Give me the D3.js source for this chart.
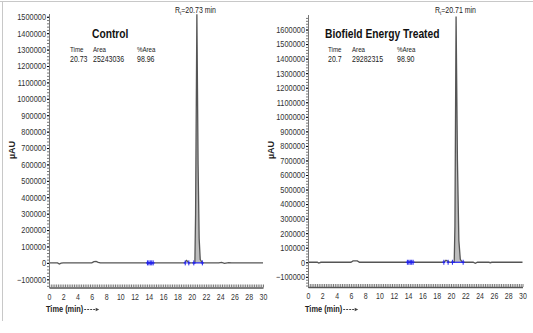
<!DOCTYPE html>
<html><head><meta charset="utf-8">
<script src="https://cdn.jsdelivr.net/npm/d3@7"></script>
<style>
body{margin:0;background:#fff;}
svg{display:block;font-family:"Liberation Sans",Arial,sans-serif;}
</style></head><body>
<svg id="c" width="533" height="333"></svg>
<script>
// ---- data ----
const xTicks = [0,2,4,6,8,10,12,14,16,18,20,22,24,26,28,30];
const yTicksControl = [-100000,0,100000,200000,300000,400000,500000,600000,700000,800000,900000,1000000,1100000,1200000,1300000,1400000,1500000];
const yTicksTreated = [-100000,0,100000,200000,300000,400000,500000,600000,700000,800000,900000,1000000,1100000,1200000,1300000,1400000,1500000,1600000];

const controlTime  = [0, 1.2, 1.45, 1.7, 2.0, 6.0, 6.3, 6.6, 6.9, 7.2, 13.8, 14.2, 14.6, 19.0, 19.3, 19.6, 20.0, 20.35, 20.45, 20.55, 20.73, 20.9, 21.05, 21.2, 21.5, 23.8, 24.2, 24.6, 25.2, 25.6, 30];
const controlValue = [0, 0, -7000, -2000, 0, 0, 8000, 9000, 3000, 0, 0, 2000, 0, 0, 15000, 0, 0, 0, 0, 300000, 1515000, 600000, 150000, 20000, 0, 0, 3000, -3000, 2000, 0, 0];
const treatedTime  = [0, 1.3, 1.5, 1.8, 6.0, 6.3, 6.9, 7.2, 13.8, 14.3, 14.8, 19.0, 19.3, 19.7, 20.0, 20.35, 20.45, 20.55, 20.71, 20.9, 21.1, 21.3, 21.6, 23.1, 23.4, 23.7, 25.3, 25.5, 25.7, 30];
const treatedValue = [0, 0, -6000, 0, 0, 9000, 9000, 0, 0, 2000, 0, 0, 14000, 3000, 0, 0, 0, 250000, 1690000, 700000, 150000, 20000, 0, 0, -7000, 0, 0, -3000, 0, 0];

const controlMarks = [13.8, 14.0, 14.2, 14.4, 14.6, 19.1, 19.6, 20.3, 21.5];
const treatedMarks = [13.9, 14.1, 14.3, 14.5, 14.7, 19.0, 19.6, 20.2, 21.7];
const controlPeakRange = [20.3, 21.5];
const treatedPeakRange = [20.2, 21.7];

const panels = [
  {title:"Control", rt:"20.73", time:"20.73", area:"25243036", pct:"98.96",
   t:controlTime, v:controlValue, marks:controlMarks, peak:controlPeakRange, yTicks:yTicksControl,
   xr:[49,263], yd:[-150000,1520000], yr:[287.5,13.5], titleX:92, tableX:[70,93,137], rtX:175, muX:12},
  {title:"Biofield Energy Treated", rt:"20.71", time:"20.7", area:"29282315", pct:"98.90",
   t:treatedTime, v:treatedValue, marks:treatedMarks, peak:treatedPeakRange, yTicks:yTicksTreated,
   xr:[308,522.5], yd:[-170000,1700000], yr:[287,15], titleX:325, tableX:[328,352,397], rtX:435, muX:271}
];

const K = 0.82; // condense factor to mimic a narrow face
function condense(sel){
  sel.each(function(){
    const w = this.getComputedTextLength();
    if (w <= 0) return;
    const s = d3.select(this);
    const anchor = getComputedStyle(this).textAnchor;
    const x0 = +(s.attr("x") || 0);
    const nw = w*K;
    let nx = x0;
    if (anchor === "end") nx = x0 - nw;
    else if (anchor === "middle") nx = x0 - nw/2;
    s.attr("x", nx).attr("text-anchor","start")
     .attr("textLength", nw).attr("lengthAdjust","spacingAndGlyphs");
  });
}

const svg = d3.select("#c");
// frame
svg.append("line").attr("x1",0).attr("x2",533).attr("y1",1.5).attr("y2",1.5).attr("stroke","#c8c8c8");
svg.append("line").attr("x1",2.5).attr("x2",2.5).attr("y1",1).attr("y2",321).attr("stroke","#c8c8c8");

panels.forEach(p => {
  const g = svg.append("g");
  const x = d3.scaleLinear().domain([0,30]).range(p.xr);
  const y = d3.scaleLinear().domain(p.yd).range(p.yr);
  const pts = p.t.map((t,i)=>[t,p.v[i]]);

  // peak fill
  const peakPts = pts.filter(d=>d[0]>=p.peak[0] && d[0]<=p.peak[1]);
  g.append("path").datum(peakPts)
    .attr("d", d3.area().x(d=>x(d[0])).y0(y(0)).y1(d=>y(d[1])))
    .attr("fill","#bdbdbd").attr("stroke","none");

  // trace
  g.append("path").datum(pts)
    .attr("d", d3.line().x(d=>x(d[0])).y(d=>y(d[1])))
    .attr("fill","none").attr("stroke","#555").attr("stroke-width",1.3);

  // blue markers
  g.append("line").attr("x1",x(p.peak[0])).attr("x2",x(p.peak[1]))
    .attr("y1",y(0)).attr("y2",y(0)).attr("stroke","#2222ee").attr("stroke-width",1.2);
  p.marks.forEach(m=>{
    g.append("line").attr("x1",x(m)).attr("x2",x(m)).attr("y1",y(0)-2.5).attr("y2",y(0)+2.5)
      .attr("stroke","#2222ee").attr("stroke-width",1);
    g.append("line").attr("x1",x(m)-1.5).attr("x2",x(m)+1.5).attr("y1",y(0)).attr("y2",y(0))
      .attr("stroke","#2222ee").attr("stroke-width",1.2);
  });

  // axes
  const yMinor = d3.range(p.yd[0]+10000, p.yd[1], 20000);
  const ax = g.append("g").attr("transform",`translate(${p.xr[0]},0)`);
  ax.call(d3.axisLeft(y).tickValues(yMinor).tickSize(2).tickFormat("").tickSizeOuter(0));
  ax.call(g2=>g2.selectAll(".tick line").attr("stroke","#777"));
  const ay = g.append("g").attr("transform",`translate(${p.xr[0]},0)`);
  ay.call(d3.axisLeft(y).tickValues(p.yTicks).tickSize(2).tickPadding(1).tickSizeOuter(0).tickFormat(d3.format("d")));
  ay.attr("font-family",null);
  ay.select(".domain").attr("stroke","#777");
  ay.selectAll("text").attr("font-size",9).attr("fill","#333").call(condense);

  const xMinor = d3.range(0, 30.01, 0.25);
  const bx = g.append("g").attr("transform",`translate(0,${p.yr[0]})`);
  bx.call(d3.axisBottom(x).tickValues(xMinor).tickSize(-3).tickFormat("").tickSizeOuter(0));
  bx.select(".domain").attr("stroke","#555").attr("stroke-width",1.5);
  bx.selectAll(".tick line").attr("stroke","#777");
  const bx2 = g.append("g").attr("transform",`translate(0,${p.yr[0]})`);
  bx2.call(d3.axisBottom(x).tickValues(xTicks).tickSize(0).tickPadding(6).tickSizeOuter(0));
  bx2.attr("font-family",null);
  bx2.select(".domain").remove();
  bx2.selectAll("text").attr("font-size",8.5).attr("fill","#333").call(condense);

  // axis titles
  const tt = g.append("text").attr("x",p.xr[0]-3).attr("y",312).attr("font-size",9).attr("font-weight","bold")
    .attr("fill","#222").text("Time (min)").call(condense);
  const tw = +tt.attr("textLength");
  const ax0 = p.xr[0]-3+tw+1;
  g.append("line").attr("x1",ax0).attr("x2",ax0+12).attr("y1",309.5).attr("y2",309.5)
    .attr("stroke","#444").attr("stroke-dasharray","2,1");
  g.append("path").attr("d",`M${ax0+15},309.5 l-3.5,-1.7 v3.4 z`).attr("fill","#444");

  g.append("text").attr("transform",`translate(${p.muX+3},150) rotate(-90)`)
    .attr("text-anchor","middle").attr("font-size",9).attr("font-weight","bold").attr("fill","#222").text("µAU");

  // titles / table
  g.append("text").attr("x",p.titleX).attr("y",38).attr("font-size",12.5).attr("font-weight","bold")
    .attr("fill","#111").text(p.title).call(condense);
  [["Time",p.time],["Area",p.area],["%Area",p.pct]].forEach((c,i)=>{
    g.append("text").attr("x",p.tableX[i]).attr("y",52).attr("font-size",7.5).attr("fill","#222").text(c[0]).call(condense);
    g.append("text").attr("x",p.tableX[i]).attr("y",62).attr("font-size",8.5).attr("fill","#222").text(c[1]).call(condense);
  });
  const rt = g.append("text").attr("x",p.rtX).attr("y",13).attr("font-size",8.5).attr("fill","#222");
  rt.append("tspan").text("R");
  rt.append("tspan").attr("font-size",5.5).attr("dy",2).text("t");
  rt.append("tspan").attr("dy",-2).text("=" + p.rt + "  min");
  rt.call(condense);
});
</script>
</body></html>
